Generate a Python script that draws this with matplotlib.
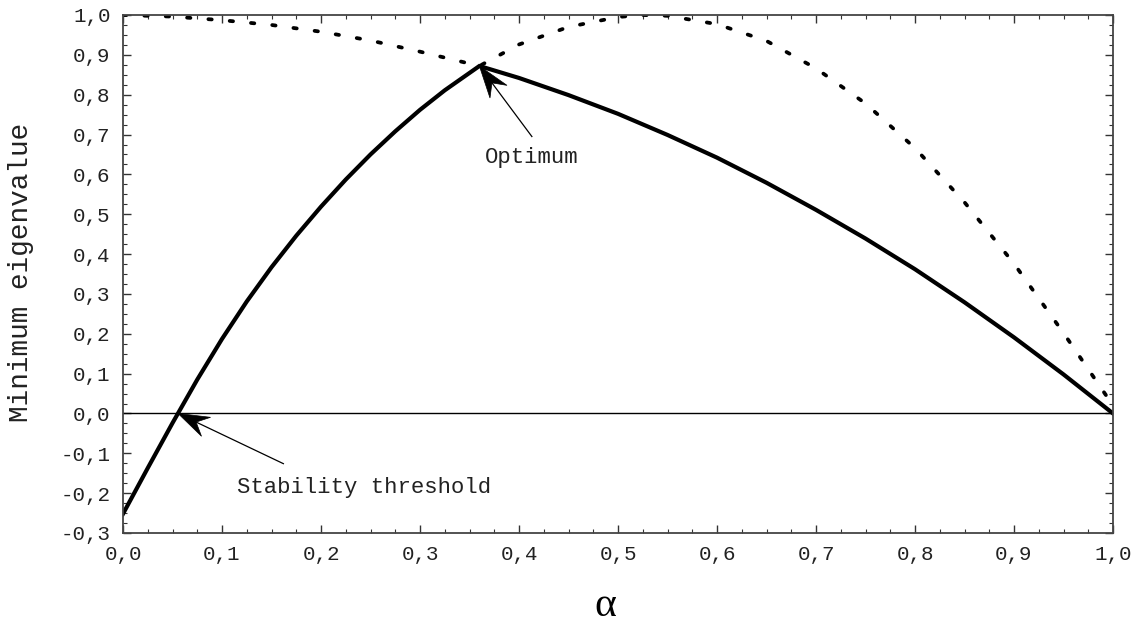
import matplotlib
matplotlib.use("Agg")
import matplotlib.pyplot as plt
from matplotlib.ticker import MultipleLocator, FuncFormatter
from matplotlib.patches import Polygon
import numpy as np

# minimum eigenvalue (solid)
alpha_min = [0.0, 0.025, 0.05, 0.075, 0.10, 0.125, 0.15, 0.175, 0.20, 0.225, 0.25,
             0.275, 0.30, 0.325, 0.36, 0.40, 0.45, 0.50, 0.55, 0.60, 0.65, 0.70,
             0.75, 0.80, 0.85, 0.90, 0.95, 1.0]
eig_min = [-0.252, -0.137, -0.024, 0.085, 0.187, 0.281, 0.367, 0.446, 0.519, 0.587, 0.650,
           0.708, 0.762, 0.811, 0.872, 0.842, 0.799, 0.752, 0.699, 0.642, 0.579, 0.511,
           0.439, 0.362, 0.279, 0.191, 0.098, 0.0]

# other eigenvalue (dotted)
alpha_other = [0.0, 0.05, 0.10, 0.15, 0.20, 0.25, 0.30, 0.36, 0.40, 0.45, 0.50, 0.525,
               0.55, 0.60, 0.65, 0.70, 0.75, 0.80, 0.85, 0.90, 0.95, 1.0]
eig_other = [1.0, 0.996, 0.987, 0.975, 0.958, 0.936, 0.908, 0.872, 0.926, 0.970, 0.995, 1.0,
             0.998, 0.977, 0.935, 0.866, 0.778, 0.666, 0.530, 0.376, 0.202, 0.02]

optimum = (0.36, 0.872)
threshold = (0.0556, 0.0)

mono = "Liberation Mono"

fig = plt.figure(figsize=(11.48, 6.31), dpi=100)
ax = fig.add_axes([123/1148, 1 - 533/631, 990/1148, 518/631])

ax.plot(alpha_other, eig_other, color="black", lw=2.7, linestyle=(0, (0.9, 4.8)),
        dash_capstyle="round", solid_capstyle="round")
ax.plot(alpha_min, eig_min, color="black", lw=3.0, solid_joinstyle="miter")
ax.axhline(0, color="black", lw=1.0)

ax.set_xlim(0, 1)
ax.set_ylim(-0.3, 1.0)
ax.xaxis.set_major_locator(MultipleLocator(0.1))
ax.xaxis.set_minor_locator(MultipleLocator(0.025))
ax.yaxis.set_major_locator(MultipleLocator(0.1))
ax.yaxis.set_minor_locator(MultipleLocator(0.025))
fmt = FuncFormatter(lambda v, p: ("%.1f" % v).replace(".", ",").replace("-0,0", "0,0"))
ax.xaxis.set_major_formatter(fmt)
ax.yaxis.set_major_formatter(fmt)
ax.tick_params(which="both", direction="in", top=True, right=True, color="#333333")
ax.tick_params(which="major", length=6, width=1.0, labelsize=15, pad=9, labelcolor="#222222")
ax.tick_params(which="minor", length=3, width=0.8)
for lab in ax.get_xticklabels() + ax.get_yticklabels():
    lab.set_fontfamily(mono)
for s in ax.spines.values():
    s.set_color("#444444")
    s.set_linewidth(1.3)

fig.text(21/1148, 1 - 272/631, "Minimum eigenvalue", fontfamily=mono, fontsize=20,
         rotation=90, ha="center", va="center", color="#222222")
fig.text(0.527, 0.04, "α", fontfamily="Liberation Serif", fontsize=30,
         ha="center", va="center")


def dart(tail, tip, L=31, W=10.5, notch=20):
    # thin line from tail to head plus a swept-back filled head, built in pixels
    T = ax.transData.transform(tip)
    S = ax.transData.transform(tail)
    u = (T - S) / np.hypot(*(T - S))
    n = np.array([-u[1], u[0]])
    pts = [T, T - L * u + W * n, T - notch * u, T - L * u - W * n]
    inv = ax.transData.inverted()
    pts = inv.transform(np.array(pts))
    ax.add_patch(Polygon(pts, closed=True, facecolor="black", edgecolor="black",
                         lw=0.5, clip_on=False, zorder=5))
    mid = inv.transform(T - notch * u)
    ax.plot([tail[0], mid[0]], [tail[1], mid[1]], color="black", lw=0.9, clip_on=False)


dart((0.413, 0.695), optimum, L=32, W=10.6, notch=21)
ax.text(0.413, 0.642, "Optimum", fontfamily=mono, fontsize=16, ha="center", va="center",
        color="#222222")

dart((0.162, -0.126), threshold)
ax.text(0.115, -0.185, "Stability threshold", fontfamily=mono, fontsize=16,
        ha="left", va="center", color="#222222")

fig.savefig("out.png", dpi=100)
